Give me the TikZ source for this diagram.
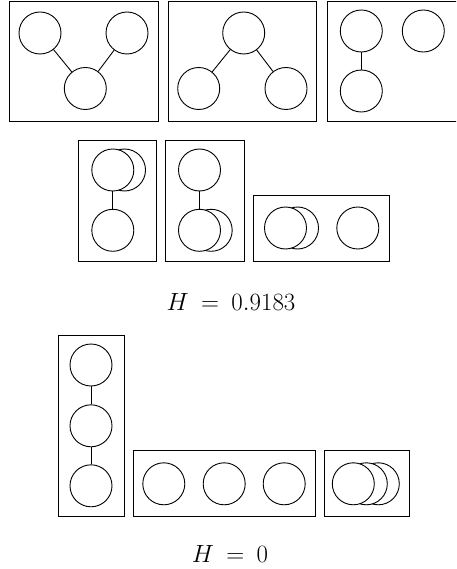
\documentclass[tikz,border=0pt]{standalone}
\newcommand\releq{\mkern4mu=\mkern4mu}
\begin{document}
\begin{tikzpicture}[x=1pt,y=-1pt,
  ball/.style={circle,draw,fill=white,minimum size=42pt,inner sep=0pt,line width=0.9pt},
  frame/.style={draw,line width=0.9pt},
  link/.style={line width=0.9pt},
  entropy/.style={font=\fontsize{23.5}{28}\selectfont}]
\useasboundingbox (0,0) rectangle (456,569);
\clip (0,0) rectangle (456,569);

% first row
\draw[frame] (9.5,1) rectangle (158,121);
\node[ball] (a1) at (40,33) {};
\node[ball] (a2) at (127,33) {};
\node[ball] (a3) at (85.3,88.5) {};
\draw[link] (a1) -- (a3) (a2) -- (a3);

\draw[frame] (168,1) rectangle (316.5,121);
\node[ball] (b1) at (243.7,33) {};
\node[ball] (b2) at (198.7,88.5) {};
\node[ball] (b3) at (286,88.5) {};
\draw[link] (b1) -- (b2) (b1) -- (b3);

\draw[frame] (327.3,1) rectangle (470,121);
\node[ball] (c1) at (361.3,31) {};
\node[ball] (c2) at (423.3,31) {};
\node[ball] (c3) at (361.3,91) {};
\draw[link] (c1) -- (c3);

% second row
\draw[frame] (78.3,140) rectangle (156.5,261);
\node[ball] (d0) at (124.5,170) {};
\node[ball] (d1) at (112.8,170) {};
\node[ball] (d2) at (112.8,230.3) {};
\draw[link] (d1) -- (d2);

\draw[frame] (165.3,140) rectangle (244,261);
\node[ball] (e1) at (199.5,170) {};
\node[ball] (e0) at (211.2,230.3) {};
\node[ball] (e2) at (199.5,230.3) {};
\draw[link] (e1) -- (e2);

\draw[frame] (253.3,195) rectangle (389,261);
\node[ball] (f0) at (297.5,228) {};
\node[ball] (f1) at (285.5,228) {};
\node[ball] (f2) at (357.8,228) {};

\node[entropy] (h1) at (231,302) {$H \releq 0.9183$};

% third row
\draw[frame] (58.3,335) rectangle (124,516.7);
\node[ball] (g1) at (91,365) {};
\node[ball] (g2) at (91,425.8) {};
\node[ball] (g3) at (91,485.8) {};
\draw[link] (g1) -- (g2) (g2) -- (g3);

\draw[frame] (133,450.7) rectangle (315,516.7);
\node[ball] (k1) at (163.8,483.8) {};
\node[ball] (k2) at (224.2,483.8) {};
\node[ball] (k3) at (284.2,483.8) {};

\draw[frame] (324.3,450.7) rectangle (409,516.7);
\node[ball] (m3) at (378.3,483.8) {};
\node[ball] (m2) at (366.3,483.8) {};
\node[ball] (m1) at (353.3,483.8) {};

\node[entropy] (h2) at (230,554) {$H \releq 0$};
\end{tikzpicture}
\end{document}
